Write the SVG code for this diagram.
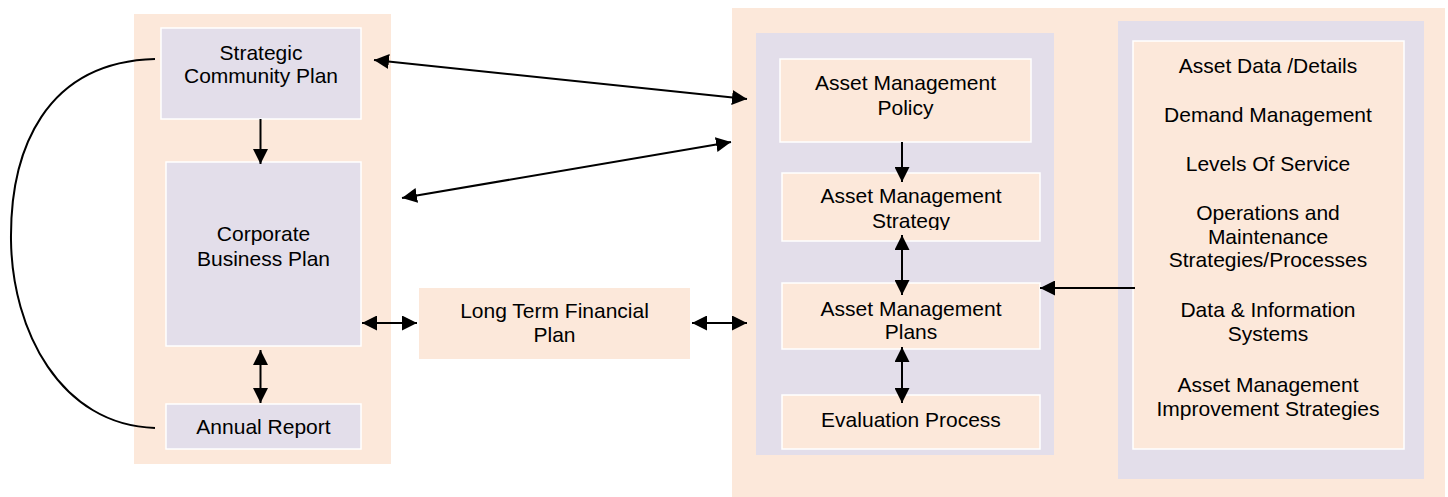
<svg xmlns="http://www.w3.org/2000/svg" width="1448" height="497" viewBox="0 0 1448 497">
<style>
.peach{fill:#FCE8DA}
.lav{fill:#E3DEEA}
.pbox{fill:#FCE8DA;stroke:#ffffff;stroke-width:1.5}
.lbox{fill:#E3DEEA;stroke:#ffffff;stroke-width:1.5}
text{font-family:"Liberation Sans",Arial,sans-serif;font-size:21px;fill:#000;text-anchor:middle}
.c{fill:none;stroke:#000;stroke-width:2}
</style>
<defs>
<marker id="ah" markerUnits="userSpaceOnUse" markerWidth="15" markerHeight="15" refX="14" refY="7" orient="auto-start-reverse" viewBox="0 0 14 14">
<path d="M0,0 L14,7 L0,14 z" fill="#000"/>
</marker>
<clipPath id="clipStrat"><rect x="782" y="173" width="258" height="57"/></clipPath>
</defs>

<g id="left-panel"><rect class="peach" x="134" y="14" width="257" height="450"/></g>
<g id="right-panel"><rect class="peach" x="732" y="8" width="713" height="489"/></g>
<g id="middle-panel"><rect class="lav" x="756" y="33" width="298" height="422"/></g>
<g id="details-panel"><rect class="lav" x="1118" y="21" width="306" height="458"/></g>

<g id="strategic-community-plan">
<rect class="lbox" x="161" y="28" width="200" height="91"/>
<text x="261" y="60">Strategic</text>
<text x="261" y="83">Community Plan</text>
</g>
<g id="corporate-business-plan">
<rect class="lbox" x="166" y="162" width="195" height="184"/>
<text x="263.5" y="241">Corporate</text>
<text x="263.5" y="266">Business Plan</text>
</g>
<g id="annual-report">
<rect class="lbox" x="166" y="404" width="195" height="45"/>
<text x="263.5" y="434">Annual Report</text>
</g>
<g id="long-term-financial-plan">
<rect class="peach" x="419" y="288" width="271" height="71"/>
<text x="554.5" y="318">Long Term Financial</text>
<text x="554.5" y="342">Plan</text>
</g>
<g id="am-policy">
<rect class="pbox" x="780" y="59" width="251" height="83"/>
<text x="905.5" y="90">Asset Management</text>
<text x="905.5" y="114.5">Policy</text>
</g>
<g id="am-strategy">
<rect class="pbox" x="782" y="173" width="258" height="68"/>
<g clip-path="url(#clipStrat)">
<text x="911" y="203">Asset Management</text>
<text x="911" y="228">Strategy</text>
</g>
</g>
<g id="am-plans">
<rect class="pbox" x="782" y="283" width="258" height="66"/>
<text x="911" y="316">Asset Management</text>
<text x="911" y="338.5">Plans</text>
</g>
<g id="evaluation-process">
<rect class="pbox" x="782" y="395" width="258" height="54"/>
<text x="911" y="427">Evaluation Process</text>
</g>
<g id="asset-details">
<rect class="pbox" x="1133" y="41" width="271" height="408"/>
<text x="1268" y="73">Asset Data /Details</text>
<text x="1268" y="122">Demand Management</text>
<text x="1268" y="171">Levels Of Service</text>
<text x="1268" y="220">Operations and</text>
<text x="1268" y="243.5">Maintenance</text>
<text x="1268" y="267">Strategies/Processes</text>
<text x="1268" y="317">Data &amp; Information</text>
<text x="1268" y="341">Systems</text>
<text x="1268" y="391.5">Asset Management</text>
<text x="1268" y="416">Improvement Strategies</text>
</g>

<g id="connectors">
<path class="c" d="M155,59 C45,62 10,150 11,240 C12,330 60,425 155,428"/>
<line class="c" x1="260.5" y1="119" x2="260.5" y2="164" marker-end="url(#ah)"/>
<line class="c" x1="260.5" y1="350" x2="260.5" y2="403" marker-start="url(#ah)" marker-end="url(#ah)"/>
<line class="c" x1="374" y1="60" x2="747" y2="99" marker-start="url(#ah)" marker-end="url(#ah)"/>
<line class="c" x1="402" y1="198" x2="731" y2="142" marker-start="url(#ah)" marker-end="url(#ah)"/>
<line class="c" x1="362" y1="323" x2="417" y2="323" marker-start="url(#ah)" marker-end="url(#ah)"/>
<line class="c" x1="692" y1="323" x2="747" y2="323" marker-start="url(#ah)" marker-end="url(#ah)"/>
<line class="c" x1="902" y1="142" x2="902" y2="182" marker-end="url(#ah)"/>
<line class="c" x1="902" y1="235" x2="902" y2="295" marker-start="url(#ah)" marker-end="url(#ah)"/>
<line class="c" x1="902" y1="347" x2="902" y2="403" marker-start="url(#ah)" marker-end="url(#ah)"/>
<line class="c" x1="1135" y1="288" x2="1040" y2="288" marker-end="url(#ah)"/>
</g>
</svg>
